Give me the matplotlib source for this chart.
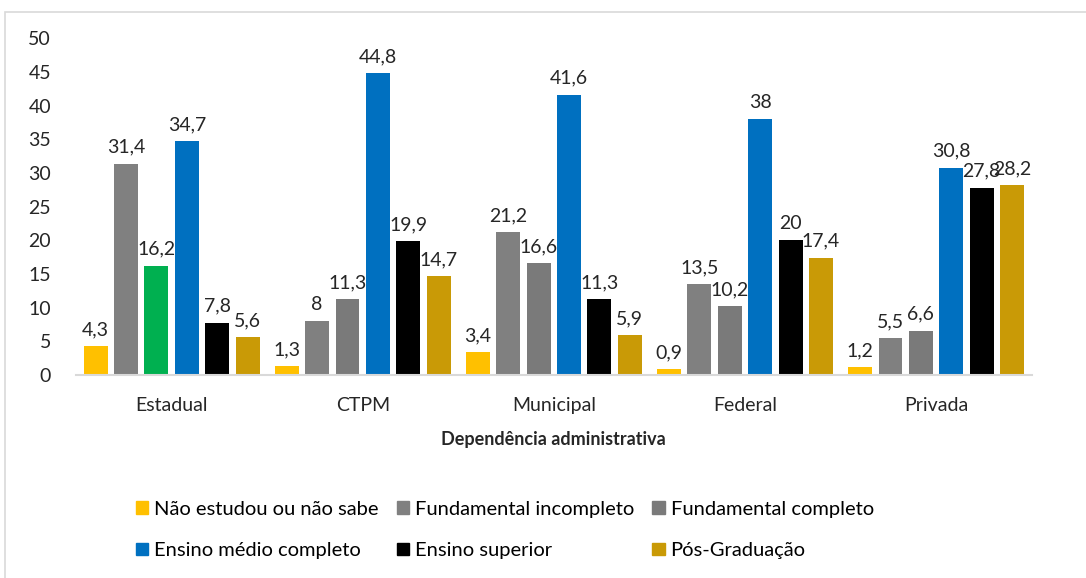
import numpy as np
import matplotlib.pyplot as plt
from matplotlib.patches import Patch, Rectangle

plt.rcParams['font.family'] = ['Lato', 'DejaVu Sans']

categories = ['Estadual', 'CTPM', 'Municipal', 'Federal', 'Privada']
series = ['Não estudou ou não sabe', 'Fundamental incompleto', 'Fundamental completo',
          'Ensino médio completo', 'Ensino superior', 'Pós-Graduação']
nao_estudou = [4.3, 1.3, 3.4, 0.9, 1.2]
fund_incompleto = [31.4, 8, 21.2, 13.5, 5.5]
fund_completo = [16.2, 11.3, 16.6, 10.2, 6.6]
medio_completo = [34.7, 44.8, 41.6, 38, 30.8]
superior = [7.8, 19.9, 11.3, 20, 27.8]
pos_graduacao = [5.6, 14.7, 5.9, 17.4, 28.2]

values = [nao_estudou, fund_incompleto, fund_completo, medio_completo, superior, pos_graduacao]
colors = ['#FFC000', '#808080', '#7a7a7a', '#0070C0', '#000000', '#C99A06']
# Estadual "Fundamental completo" bar is drawn in green in the original
bar_colors = [[c] * 5 for c in colors]
bar_colors[2][0] = '#00B050'

fig = plt.figure(figsize=(10.86, 5.78), dpi=100)
fig.patches.append(Rectangle((5 / 1086, -0.01), 1.0, 1 - 12 / 578 + 0.01, transform=fig.transFigure,
                             fill=False, edgecolor='#d9d9d9', linewidth=1.2))
ax = fig.add_axes([0.07, 0.351, 0.88, 0.583])

x = np.arange(len(categories))
step = 0.159
width = 0.125
for i, vals in enumerate(values):
    pos = x + (i - 2.5) * step
    ax.bar(pos, vals, width=width, color=bar_colors[i])
    for px, v in zip(pos, vals):
        lbl = ('%g' % v).replace('.', ',')
        ax.text(px, v + 1.2, lbl, ha='center', va='bottom', fontsize=14, color='#262626')

ax.set_xlim(-0.5, len(categories) - 0.5)
ax.set_ylim(0, 50)
ax.set_yticks(range(0, 51, 5))
ax.set_xticks(x)
ax.set_xticklabels(categories)
for s in ['top', 'right', 'left']:
    ax.spines[s].set_visible(False)
ax.spines['bottom'].set_color('#d9d9d9')
ax.spines['bottom'].set_linewidth(1.5)
ax.tick_params(axis='both', length=0, labelsize=14, labelcolor='#262626')
ax.tick_params(axis='y', pad=18)
ax.tick_params(axis='x', pad=16)
ax.set_xlabel('Dependência administrativa', fontsize=13, fontweight='bold', color='#262626', labelpad=12)

handles = [Patch(color=c) for c in colors]
order = [0, 3, 1, 4, 2, 5]
fig.legend([handles[k] for k in order], [series[k] for k in order], ncol=3, loc='center',
           bbox_to_anchor=(0.465, 0.083), frameon=False, fontsize=14.5, handlelength=0.6,
           handleheight=0.6, handletextpad=0.3, columnspacing=0.9, labelspacing=1.2)

fig.savefig('out.png', dpi=100)
